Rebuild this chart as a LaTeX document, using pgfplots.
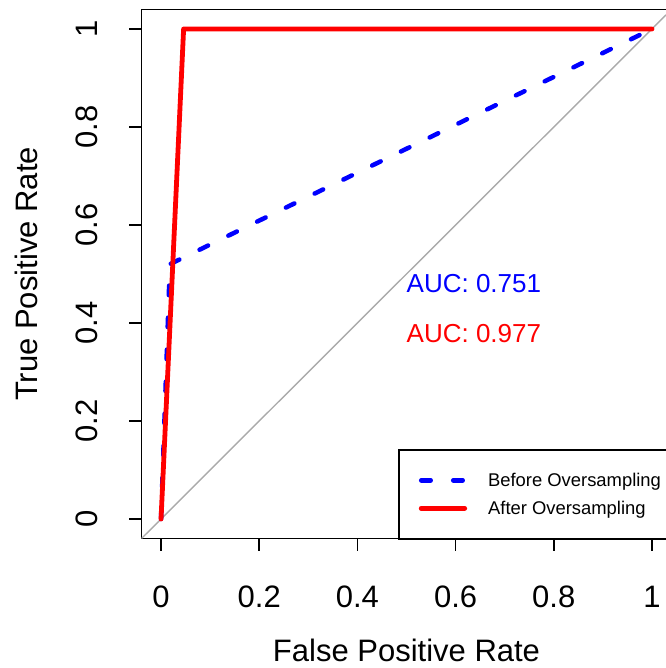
\documentclass[border=0pt]{standalone}
\usepackage{fontspec}
\setmainfont{Liberation Sans}
\usepackage{pgfplots}
\pgfplotsset{compat=1.18}
\definecolor{rblue}{RGB}{0,0,255}
\definecolor{rred}{RGB}{255,0,0}
\definecolor{rgrey}{RGB}{170,170,170}
\begin{document}
\begin{tikzpicture}
\path[use as bounding box] (-141.4pt,-129.4pt) rectangle (523.6pt,538.6pt);
\begin{axis}[
  at={(0pt,0pt)}, anchor=south west,
  scale only axis, width=530.2pt, height=529.2pt,
  xmin=-0.04, xmax=1.04, ymin=-0.04, ymax=1.04,
  axis line style={line width=1.6pt},
  every tick/.style={black, line width=1.6pt},
  tick align=outside, tick pos=left, major tick length=12pt,
  xtick={0,0.2,0.4,0.6,0.8,1}, ytick={0,0.2,0.4,0.6,0.8,1},
  xticklabels={0,0.2,0.4,0.6,0.8,1}, yticklabels={0,0.2,0.4,0.6,0.8,1},
  ticklabel style={font=\fontsize{31}{36}\selectfont},
  xticklabel style={anchor=base, inner sep=0pt},
  yticklabel style={rotate=90, anchor=base, inner sep=0pt},
  xticklabel shift=57pt, yticklabel shift=32.4pt,
  xlabel={False Positive Rate}, ylabel={True Positive Rate},
  label style={font=\fontsize{31}{36}\selectfont, inner sep=0pt},
  xlabel style={at={(axis description cs:0.5,-0.2316)}, anchor=base},
  ylabel style={at={(axis description cs:-0.1969,0.5)}, anchor=base},
  legend image code/.code={\draw[#1] (2.25pt,0pt) -- (45.75pt,0pt);},
  legend style={at={(0.484,0.1693)}, anchor=north west, draw=black, line width=1.6pt,
    inner xsep=20pt, inner ysep=22pt, row sep=11pt,
    font=\fontsize{18.4}{20}\selectfont,
    nodes={inner sep=0pt, text height=14.5pt, text depth=2.5pt, anchor=west},
    /tikz/every odd column/.append style={column sep=21pt}},
  legend cell align=left,
]
\addplot[rgrey, line width=1.4pt, forget plot] coordinates {(-0.04,-0.04) (1.04,1.04)};
\addplot[rblue, line width=4.5pt, line cap=round, line join=round, dash pattern=on 9.5pt off 22.5pt] coordinates {(0,0) (0.018,0.52) (1,1)};
\addlegendentry{Before Oversampling}
\addplot[rred, line width=4.8pt, line cap=round, line join=round] coordinates {(0,0) (0.046,1) (1,1)};
\addlegendentry{After Oversampling}
\node[anchor=base west, inner sep=0pt, text=rblue, font=\fontsize{26}{30}\selectfont] at (axis cs:0.5,0.463) {AUC: 0.751};
\node[anchor=base west, inner sep=0pt, text=rred, font=\fontsize{26}{30}\selectfont] at (axis cs:0.5,0.361) {AUC: 0.977};
\end{axis}
\end{tikzpicture}
\end{document}
